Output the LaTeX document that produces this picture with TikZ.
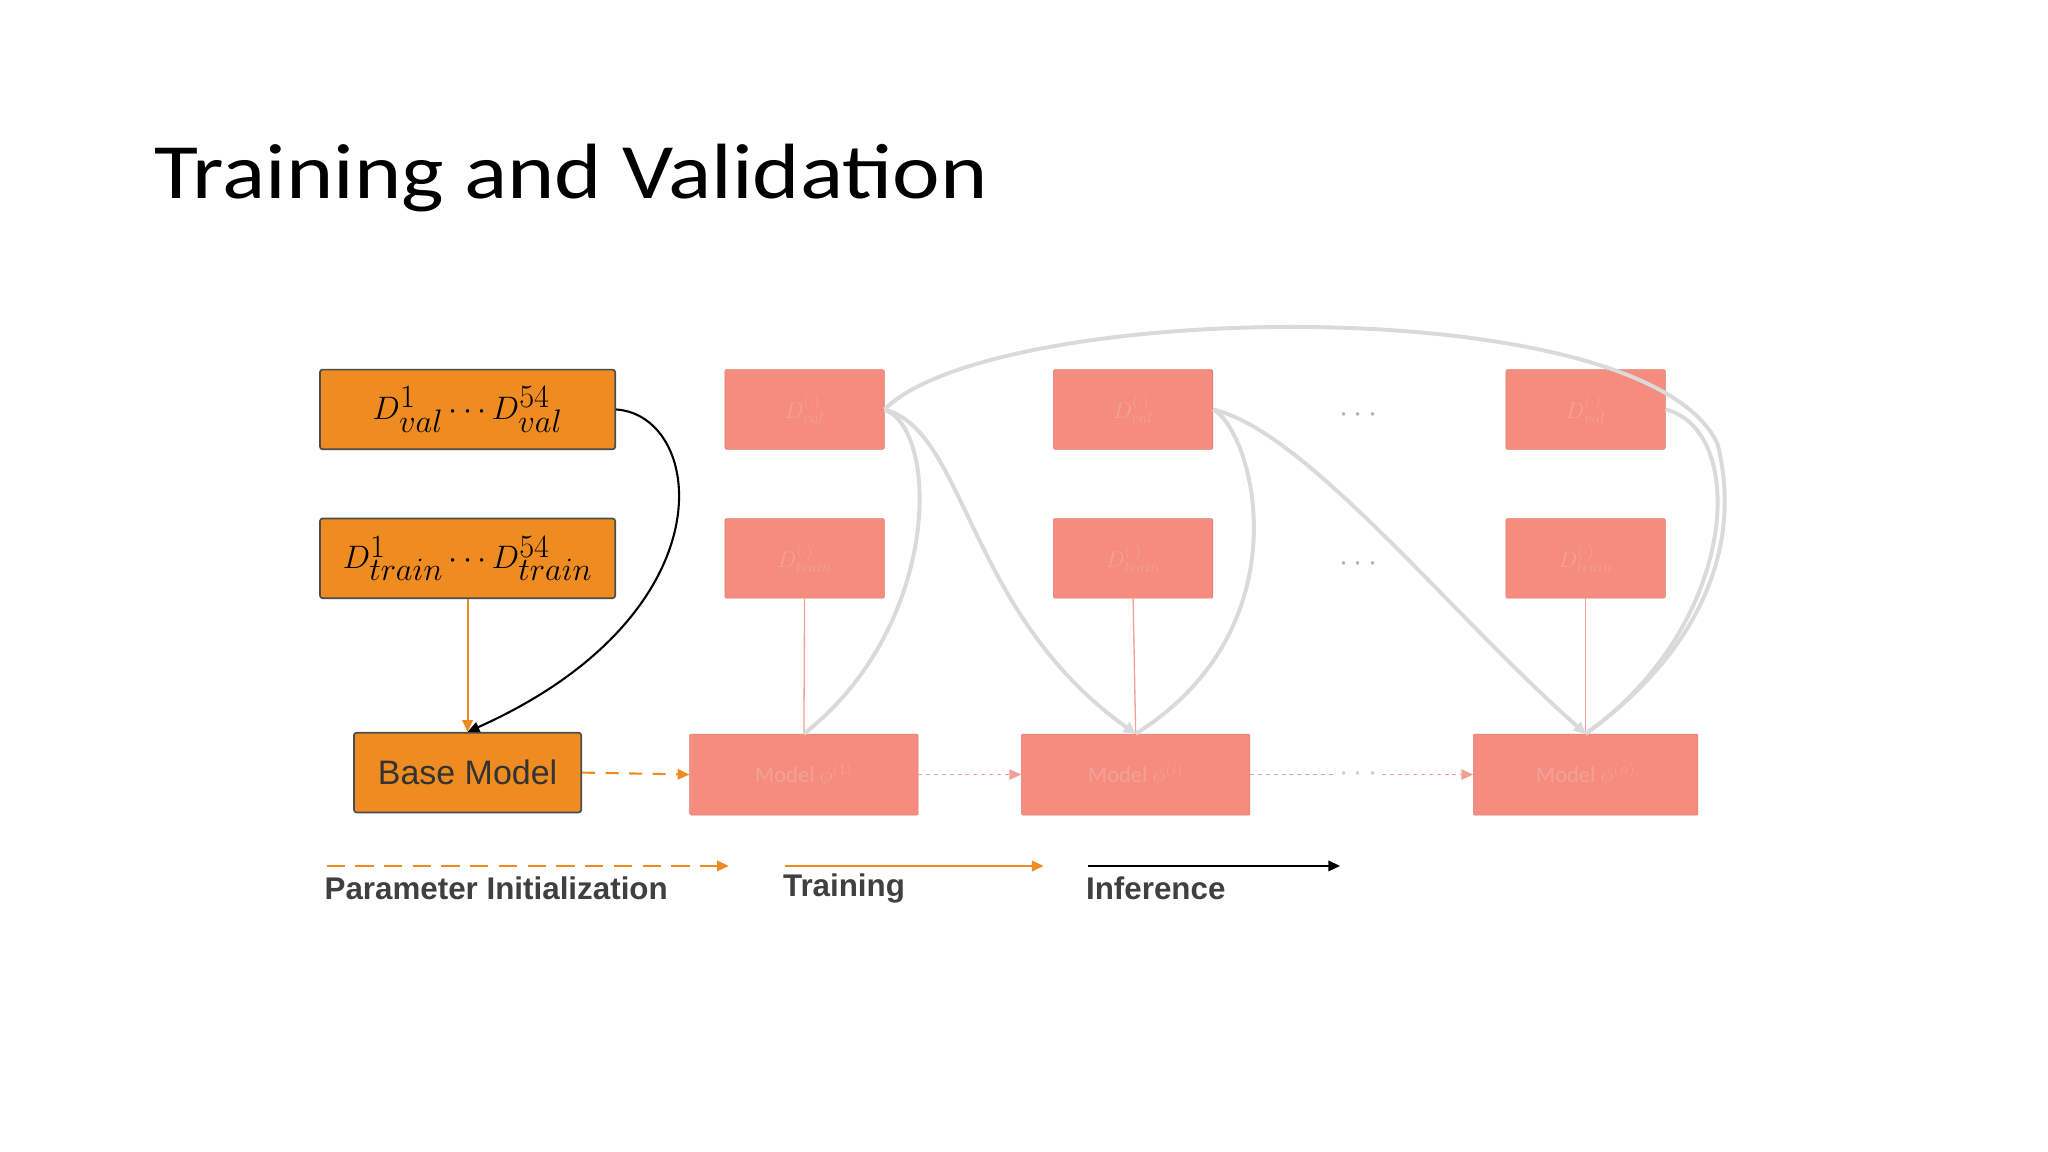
\documentclass[tikz,border=0pt]{standalone}
\usepackage{fontspec}
\setmainfont{Carlito}
\newfontfamily\titlef[FakeStretch=1.15]{Carlito}
\newfontfamily\arialf{Liberation Sans}
\usetikzlibrary{arrows.meta}
\definecolor{org}{HTML}{EE8C22}
\definecolor{sal}{HTML}{F68C7E}
\definecolor{salt}{HTML}{F3A197}
\definecolor{gcur}{HTML}{DADADA}
\tikzset{
 obox/.style={draw=black!70,line width=1.3pt,fill=org,rounded corners=2pt,inner sep=0pt},
 sbox/.style={fill=sal,draw=sal!90!black,line width=0.4pt,inner sep=0pt,rounded corners=1pt},
 gline/.style={draw=gcur,line width=3pt},
 otip/.style={-{Triangle[length=9pt,width=8pt]}},
 lbl/.style={font=\arialf\bfseries\fontsize{24}{26}\selectfont,text=black!75,anchor=west}
}
\begin{document}
\begin{tikzpicture}[x=1pt,y=-1pt]
\useasboundingbox (0,0) rectangle (1568,882);
\fill[white] (0,0) rectangle (1568,882);
\node[anchor=base west,inner sep=0pt,font=\titlef\fontsize{60}{70}\selectfont] (title) at (118,152) {Training and Validation};
% left orange boxes
\node[obox,minimum width=226pt,minimum height=61pt] (dval) at (358,313.5) {\fontsize{34}{36}\selectfont $D^1_{val}\cdots D^{54}_{val}$};
\node[obox,minimum width=226pt,minimum height=61pt] (dtr) at (358,427.5) {\fontsize{34}{36}\selectfont $D^1_{train}\cdots D^{54}_{train}$};
\node[obox,minimum width=174pt,minimum height=61pt] (base) at (358,591.5) {\arialf\fontsize{26}{28}\selectfont\color{black!80}Base Model};
\draw[org,line width=1.6pt,otip] (dtr.south) -- (base.north);
\draw[black,line width=1.6pt,otip] (dval.east) .. controls (540,318) and (560,470) .. (base.north);
% salmon grid
\foreach \n/\x in {a/616,b/867.5,c/1214}{
 \node[sbox,minimum width=122pt,minimum height=61pt] (v\n) at (\x,313.5) {\color{salt}\LARGE $D^{(\cdot)}_{val}$};
 \node[sbox,minimum width=122pt,minimum height=61pt] (t\n) at (\x,427.5) {\color{salt}\LARGE $D^{(\cdot)}_{train}$};
}
\node[sbox,minimum width=175pt,minimum height=62pt] (ma) at (615.5,593) {\color{salt}\LARGE Model $\phi^{(1)}$};
\node[sbox,minimum width=175pt,minimum height=62pt] (mb) at (869.5,593) {\color{salt}\LARGE Model $\phi^{(i)}$};
\node[sbox,minimum width=172pt,minimum height=62pt] (mc) at (1214,593) {\color{salt}\LARGE Model $\phi^{(n)}$};
\foreach \n in {a,b,c}{\draw[salt,line width=1pt] (t\n.south) -- (m\n.north);}
% gray curves
\draw[gline,-{Triangle[length=9pt,width=9pt]}] (va.east) .. controls (740,330) and (740,470) .. (mb.north);
\draw[gline] (va.east) .. controls (760,230) and (1260,220) .. (1315,340) .. controls (1335,420) and (1300,500) .. (mc.north);
\draw[gline] (va.east) .. controls (720,330) and (720,480) .. (ma.north);
\draw[gline,-{Triangle[length=9pt,width=9pt]}] (vb.east) .. controls (1000,330) and (1110,470) .. (mc.north);
\draw[gline] (vb.east) .. controls (960,330) and (1000,480) .. (mb.north);
\draw[gline] (vc.east) .. controls (1340,330) and (1330,480) .. (mc.north);
\node[text=gray!60,font=\Huge] (d1) at (1040,318) {$\cdots$};
\node[text=gray!60,font=\Huge] (d2) at (1040,432) {$\cdots$};
\node[text=gray!40,font=\Huge] (d3) at (1040,593) {$\cdots$};
% model arrows
\draw[org,line width=1.6pt,dash pattern=on 10pt off 8pt,otip] (base.east) -- (ma.west);
\draw[salt,line width=1.2pt,dashed,otip] (ma.east) -- (mb.west);
\draw[salt,line width=1.2pt,dashed] (mb.east) -- (d3.west);
\draw[salt,line width=1.2pt,dashed,otip] (d3.east) -- (mc.west);
% legend
\coordinate (l1) at (250,663); \coordinate (l2) at (558,663);
\coordinate (l3) at (601,663); \coordinate (l4) at (799,663);
\coordinate (l5) at (833,663); \coordinate (l6) at (1026,663);
\draw[org,line width=1.6pt,dash pattern=on 14pt off 8pt,otip] (l1) -- (l2);
\draw[org,line width=2pt,otip] (l3) -- (l4);
\draw[black,line width=1.6pt,otip] (l5) -- (l6);
\node[lbl] (t1) at (245,680) {Parameter Initialization};
\node[lbl] (t2) at (596,680) {Training};
\node[lbl] (t3) at (828,680) {Inference};
\end{tikzpicture}
\end{document}
